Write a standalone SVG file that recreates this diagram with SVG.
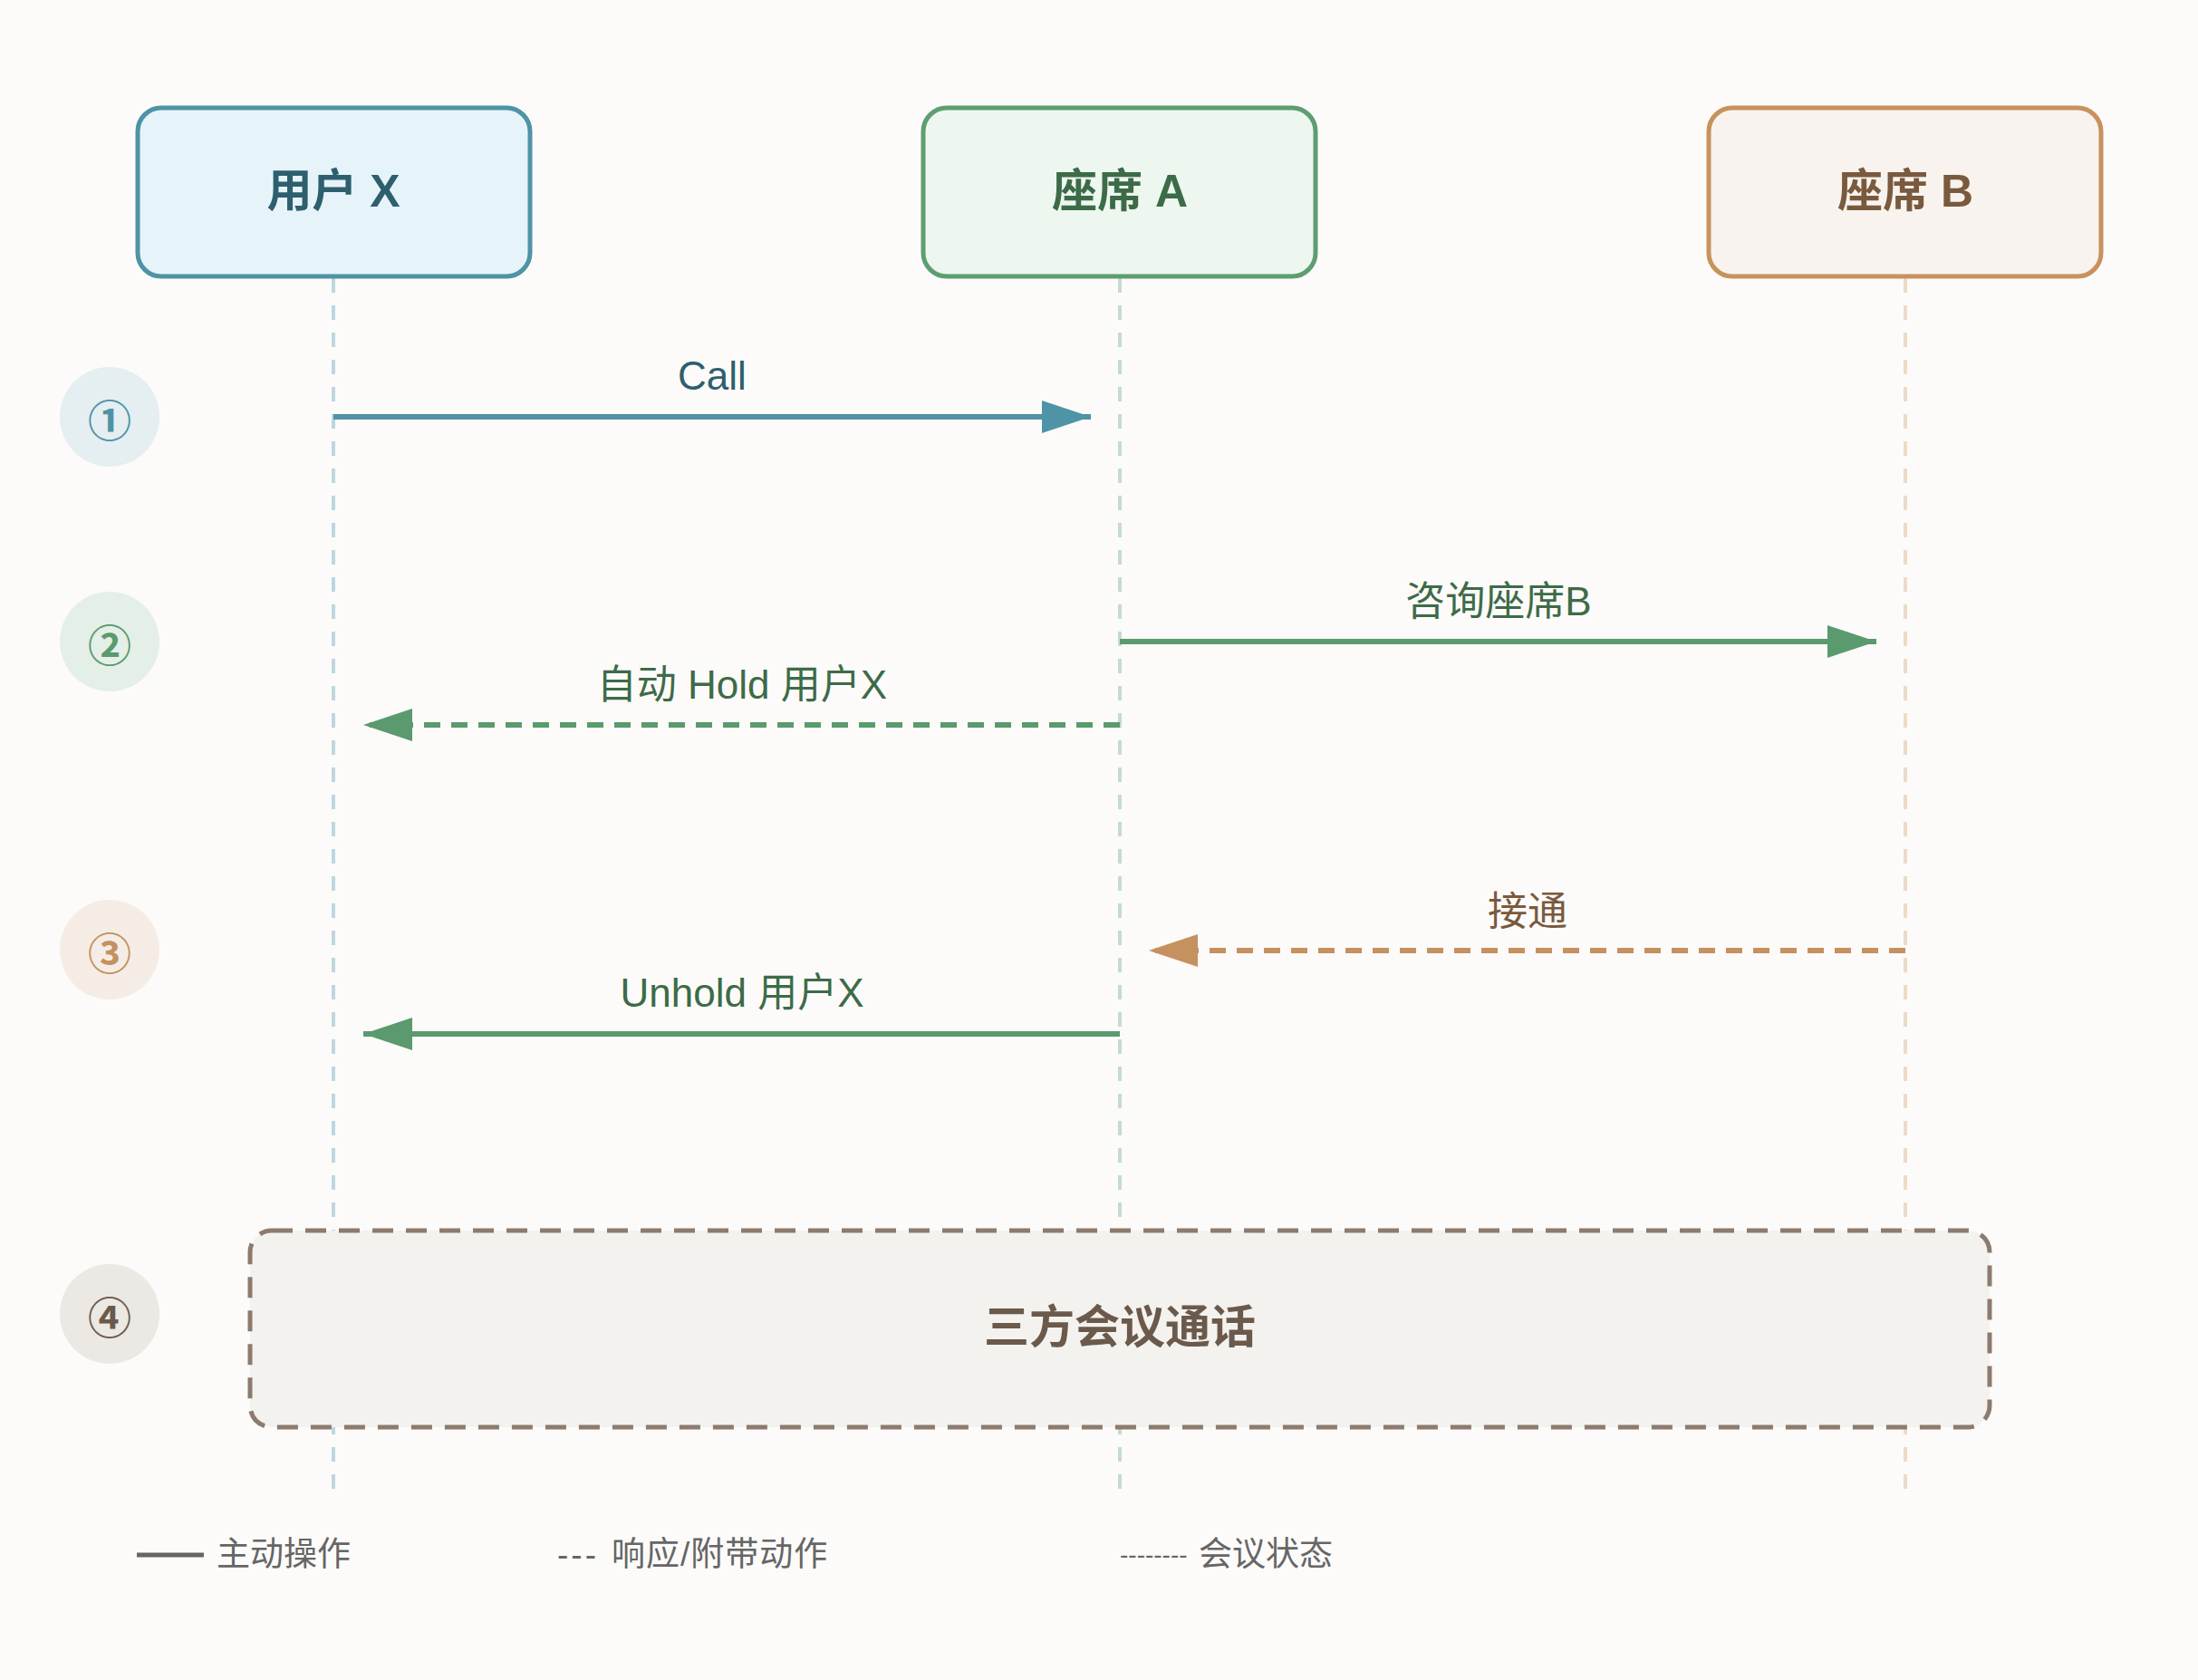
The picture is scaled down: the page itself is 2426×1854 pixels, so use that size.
<svg xmlns="http://www.w3.org/2000/svg" width="2426" height="1854" viewBox="0 0 2426 1854">
<style>
.node-x{fill:#e6f4f9;stroke:#4e93a6;stroke-width:5}
.node-a{fill:#edf6ef;stroke:#5e9e72;stroke-width:5}
.node-b{fill:#f8f3ee;stroke:#c8925e;stroke-width:5}
.ntext{font-family:"Liberation Sans","Noto Sans CJK SC",sans-serif;font-size:50px;font-weight:bold;text-anchor:middle}
.lbl{font-family:"Liberation Sans","Noto Sans CJK SC",sans-serif;font-size:44px;text-anchor:middle}
.life{stroke-width:4;stroke-dasharray:16 14;fill:none}
.msg{stroke-width:6;fill:none}
.dash{stroke-dasharray:18 12}
.step{font-family:"Noto Sans CJK SC","DejaVu Sans",sans-serif;font-size:48px;font-weight:bold;text-anchor:middle;dominant-baseline:central}
.leg{font-family:"Liberation Sans","Noto Sans CJK SC",sans-serif;font-size:37px;fill:#666666}
</style>
<defs>
<marker id="ah-blue" markerUnits="userSpaceOnUse" markerWidth="56" markerHeight="38" refX="54" refY="18" orient="auto"><path d="M0,0 L54,18 L0,36 z" fill="#4e93a6"/></marker>
<marker id="ah-green" markerUnits="userSpaceOnUse" markerWidth="56" markerHeight="38" refX="54" refY="18" orient="auto"><path d="M0,0 L54,18 L0,36 z" fill="#5a9a6e"/></marker>
<marker id="ah-tan" markerUnits="userSpaceOnUse" markerWidth="56" markerHeight="38" refX="54" refY="18" orient="auto"><path d="M0,0 L54,18 L0,36 z" fill="#c4915f"/></marker>
</defs>
<rect x="0" y="0" width="2426" height="1854" fill="#fcfbf9"/>

<g id="lifelines">
<line class="life" x1="368" y1="307" x2="368" y2="1651" stroke="#bdd7de"/>
<line class="life" x1="1236" y1="307" x2="1236" y2="1651" stroke="#c3ddcb"/>
<line class="life" x1="2103" y1="307" x2="2103" y2="1651" stroke="#eedbc6"/>
</g>

<g id="steps">
<g id="step1"><circle cx="121" cy="460" r="55" fill="#e5eef0"/><text class="step" x="121" y="461" fill="#4e93a6">①</text></g>
<g id="step2"><circle cx="121" cy="708" r="55" fill="#e4efe7"/><text class="step" x="121" y="709" fill="#5a9a6e">②</text></g>
<g id="step3"><circle cx="121" cy="1048" r="55" fill="#f5ede5"/><text class="step" x="121" y="1049" fill="#c4915f">③</text></g>
<g id="step4"><circle cx="121" cy="1450" r="55" fill="#ece8e4"/><text class="step" x="121" y="1451" fill="#6b5a4b">④</text></g>
</g>

<g id="conference">
<rect x="276" y="1358" width="1920" height="217" rx="24" fill="#f4f2ef" stroke="#8c7b6e" stroke-width="5" stroke-dasharray="23 14"/>
<text class="ntext" x="1236" y="1482" fill="#6b5a4b">三方会议通话</text>
</g>

<g id="user-x">
<rect class="node-x" x="152" y="119" width="433" height="186" rx="26"/>
<text class="ntext" x="368" y="228" fill="#2e5f6e">用户 X</text>
</g>
<g id="agent-a">
<rect class="node-a" x="1019" y="119" width="433" height="186" rx="26"/>
<text class="ntext" x="1236" y="228" fill="#3d6b48">座席 A</text>
</g>
<g id="agent-b">
<rect class="node-b" x="1886" y="119" width="433" height="186" rx="26"/>
<text class="ntext" x="2103" y="228" fill="#7a5a3e">座席 B</text>
</g>

<g id="connectors">
<line class="msg" x1="368" y1="460" x2="1204" y2="460" stroke="#4e93a6" marker-end="url(#ah-blue)"/>
<text class="lbl" x="786" y="430" fill="#2e5f6e">Call</text>
<line class="msg" x1="1236" y1="708" x2="2071" y2="708" stroke="#5a9a6e" marker-end="url(#ah-green)"/>
<text class="lbl" x="1654" y="679" fill="#3d6b48">咨询座席B</text>
<line class="msg dash" x1="1236" y1="800" x2="401" y2="800" stroke="#5a9a6e" marker-end="url(#ah-green)"/>
<text class="lbl" x="819" y="771" fill="#3d6b48">自动 Hold 用户X</text>
<line class="msg dash" x1="2103" y1="1049" x2="1268" y2="1049" stroke="#c4915f" marker-end="url(#ah-tan)"/>
<text class="lbl" x="1686" y="1021" fill="#7a5a3e">接通</text>
<line class="msg" x1="1236" y1="1141" x2="401" y2="1141" stroke="#5a9a6e" marker-end="url(#ah-green)"/>
<text class="lbl" x="819" y="1111" fill="#3d6b48">Unhold 用户X</text>
</g>

<g id="legend">
<line x1="151" y1="1716" x2="225" y2="1716" stroke="#666666" stroke-width="5"/>
<text class="leg" x="239" y="1728">主动操作</text>
<text class="leg" x="615" y="1728" letter-spacing="3">---</text>
<text class="leg" x="675" y="1728" letter-spacing="1">响应/附带动作</text>
<text class="leg" x="1236" y="1725" style="font-size:28px">--------</text>
<text class="leg" x="1323" y="1728">会议状态</text>
</g>
</svg>
